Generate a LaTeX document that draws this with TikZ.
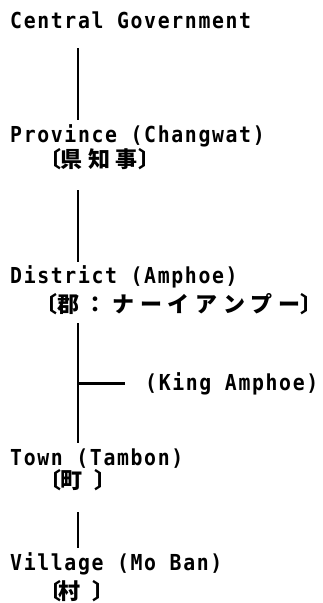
\documentclass[tikz,border=0pt]{standalone}
\usepackage{fontspec}
\usetikzlibrary{calc}
\newfontfamily\lat{DejaVu Sans Mono}[LetterSpace=7.5,FakeStretch=0.9]
\newfontfamily\cjk{Noto Sans CJK JP}
% one CJK character in a cell of fixed advance
\newcommand{\jc}[2][27.5pt]{\makebox[#1]{#2}}
% opening and closing tortoise-shell brackets, kerned close to the text
\newcommand{\lbk}{\makebox[7pt][r]{〔\kern-3pt}}
\newcommand{\rbk}[1][0pt]{\kern#1\makebox[7pt][l]{〕}}
\tikzset{
  lbl/.style={inner sep=0pt, anchor=base west, font=\lat\bfseries\fontsize{22}{22}\selectfont},
  jp/.style={inner sep=0pt, anchor=west, font=\cjk\bfseries\fontsize{22}{22}\selectfont},
  conn/.style={line width=2.8pt}
}
\begin{document}
\begin{tikzpicture}[x=1pt,y=1pt]
\useasboundingbox (0,0) rectangle (323,-603);
\coordinate (vx) at (78,0);
\node[lbl] (cg) at (10,-28) {Central Government};
\node[lbl] (pv) at (10,-142) {Province (Changwat)};
\node[jp]  (j1) at (51,-159) {\lbk\jc{県}\jc{知}\jc{事}\rbk[-2.5pt]};
\node[lbl] (dt) at (10,-283) {District (Amphoe)};
\node[jp]  (j2) at (47,-304) {\lbk\jc[27.7pt]{郡}\jc[27.7pt]{：}\jc[27.7pt]{ナ}\jc[27.7pt]{ー}\jc[27.7pt]{イ}\jc[27.7pt]{ア}\jc[27.7pt]{ン}\jc[27.7pt]{プ}\jc[27.7pt]{ー}\rbk[-2.6pt]};
\node[lbl] (ka) at (145,-390) {(King Amphoe)};
\node[lbl] (tw) at (10,-465) {Town (Tambon)};
\node[jp]  (j3) at (51,-480) {\lbk\jc{町}\rbk[9pt]};
\node[lbl] (vl) at (10,-570) {Village (Mo Ban)};
\node[jp]  (j4) at (51,-591) {\lbk\jc[22pt]{村}\rbk[12.5pt]};
\draw[conn] ($(cg.base -| vx)+(0,-20)$) -- ($(pv.base -| vx)+(0,22)$);
\draw[conn] ($(j1.west -| vx)+(0,-31)$) -- ($(dt.base -| vx)+(0,21)$);
\draw[conn] ($(j2.west -| vx)+(0,-19)$) -- ($(tw.base -| vx)+(0,22)$);
\draw[conn] (ka.west -| vx) -- ($(ka.west)+(-20,0)$);
\draw[conn] ($(j3.west -| vx)+(0,-32)$) -- ($(vl.base -| vx)+(0,22)$);
\end{tikzpicture}
\end{document}
